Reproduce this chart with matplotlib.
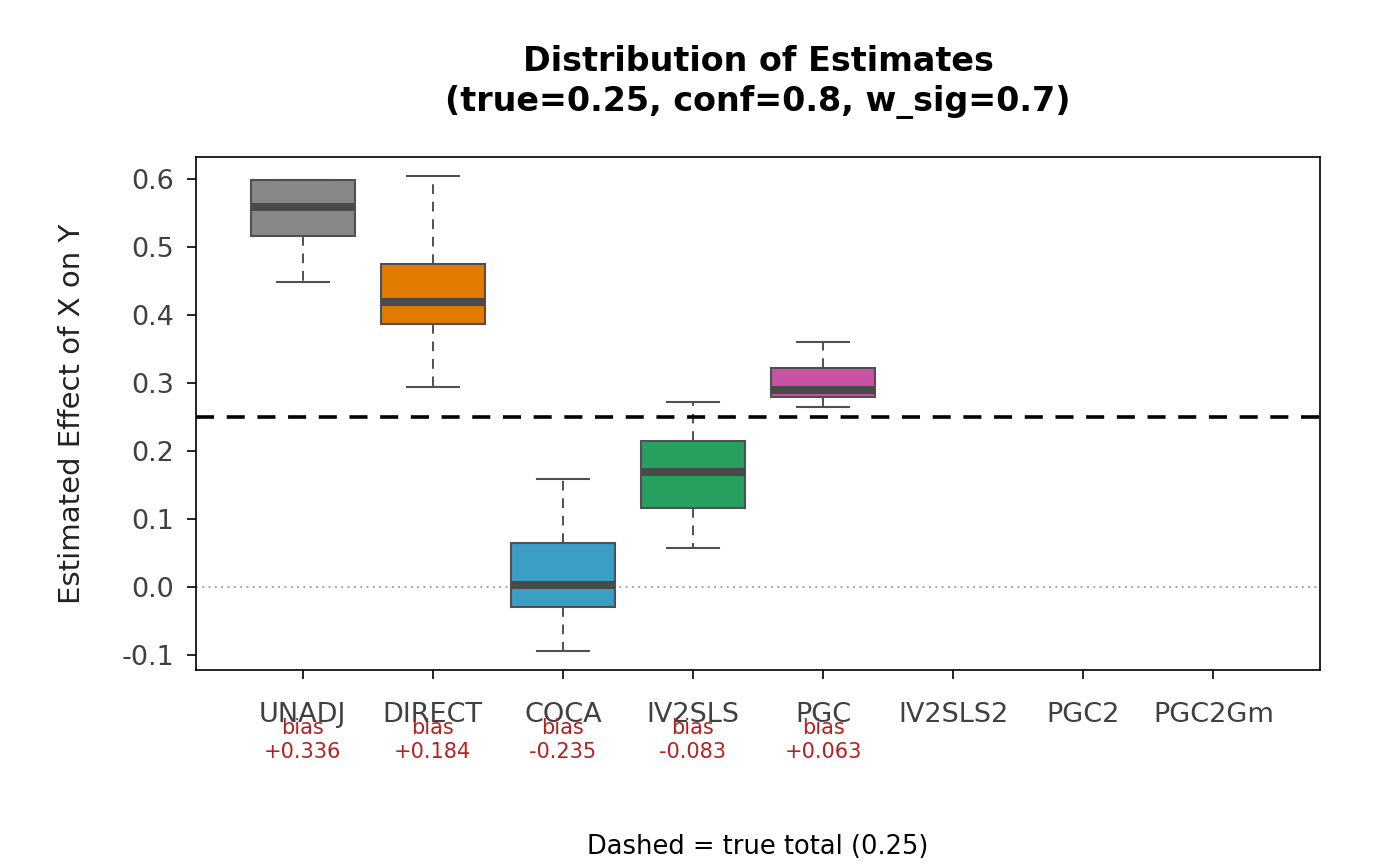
import numpy as np
import matplotlib
matplotlib.use("Agg")
import matplotlib.pyplot as plt
import matplotlib.transforms as mtransforms

# methods on the x axis (last three have no estimates)
methods = ["UNADJ", "DIRECT", "COCA", "IV2SLS", "PGC", "IV2SLS2", "PGC2", "PGC2Gm"]
colors = ["#888888", "#E07B00", "#3A9EC5", "#27A060", "#C853A3"]

# five-number summaries
whislo = [0.449, 0.294, -0.094, 0.057, 0.265]
q1 = [0.516, 0.387, -0.029, 0.116, 0.279]
med = [0.559, 0.419, 0.003, 0.169, 0.290]
q3 = [0.599, 0.475, 0.065, 0.215, 0.322]
whishi = [0.599, 0.604, 0.159, 0.272, 0.360]
bias = ["+0.336", "+0.184", "-0.235", "-0.083", "+0.063"]

true_total = 0.25
yticks = [-0.1, 0.0, 0.1, 0.2, 0.3, 0.4, 0.5, 0.6]

fig = plt.figure(figsize=(14, 8.66), dpi=100)
ax = fig.add_axes([0.14, 0.2263, 0.8029, 0.5924])

stats = []
for i in range(len(med)):
    stats.append(dict(whislo=whislo[i], q1=q1[i], med=med[i], q3=q3[i],
                      whishi=whishi[i], fliers=[]))

pos = np.arange(1, len(med) + 1)
bp = ax.bxp(stats, positions=pos, widths=0.8, patch_artist=True,
            showfliers=False,
            boxprops=dict(edgecolor="#505050", linewidth=1.5),
            medianprops=dict(color="#4a4a4a", linewidth=5.8, solid_capstyle="butt"),
            whiskerprops=dict(color="#505050", linewidth=1.4, linestyle=(0, (5, 4))),
            capprops=dict(color="#505050", linewidth=1.5),
            capwidths=0.4)
for patch, c in zip(bp["boxes"], colors):
    patch.set_facecolor(c)

ax.axhline(true_total, color="black", linewidth=2.6, linestyle=(0, (5, 3.5)), zorder=3)
ax.axhline(0, color="#999999", linewidth=1.3, linestyle=(0, (1, 2.5)), zorder=0)

ax.set_xlim(0.18, len(methods) + 0.82)
ax.set_ylim(-0.1223, 0.6324)
ax.set_xticks(np.arange(1, len(methods) + 1))
ax.set_xticklabels(methods)
ax.set_yticks(yticks)
ax.set_yticklabels(["%.1f" % v for v in yticks])
ax.tick_params(axis="x", length=6.5, width=1.2, pad=16.5, labelsize=19.5, labelcolor="#404040")
ax.tick_params(axis="y", length=6.5, width=1.2, pad=9, labelsize=19.5, labelcolor="#404040")
for s in ax.spines.values():
    s.set_linewidth(1.2)

ax.set_ylabel("Estimated Effect of X on Y", fontsize=21, color="#222222", labelpad=26)

# bias annotations sit right under the tick labels (they overlap in the original too)
trans = mtransforms.blended_transform_factory(ax.transData, ax.transAxes)
for p, b in zip(pos, bias):
    ax.text(p, -0.1365, "bias\n" + b, transform=trans, ha="center", va="center",
            fontsize=15, color="#B22222", linespacing=1.28)

fig.text(0.5414, 0.929, "Distribution of Estimates", ha="center", va="center",
         fontsize=24, fontweight="bold")
fig.text(0.5414, 0.882, "(true=0.25, conf=0.8, w_sig=0.7)", ha="center", va="center",
         fontsize=24, fontweight="bold")
fig.text(0.5414, 0.022, "Dashed = true total (0.25)", ha="center", va="center",
         fontsize=18.5)

fig.savefig("out.png", dpi=100)
